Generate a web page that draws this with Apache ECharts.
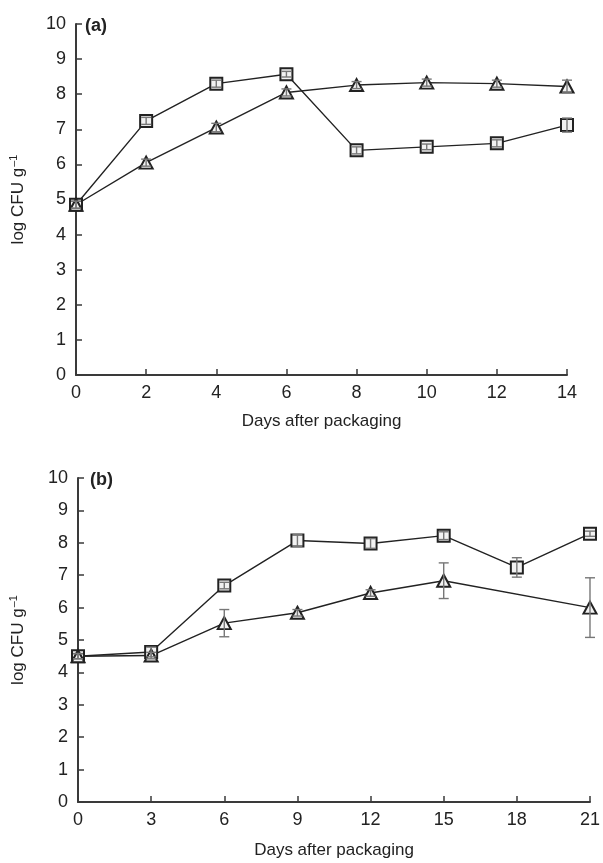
<!DOCTYPE html>
<html>
<head>
<meta charset="utf-8">
<script src="https://cdn.jsdelivr.net/npm/echarts@6/dist/echarts.min.js"></script>
<style>
  html, body { margin: 0; padding: 0; background: #fff; }
  #chart { width: 603px; height: 863px; }
</style>
</head>
<body>
<div id="chart"></div>
<script>
// panel (a)
const daysA = [0, 2, 4, 6, 8, 10, 12, 14]
const squareA = [4.85, 7.24, 8.3, 8.57, 6.4, 6.5, 6.6, 7.12]
const squareErrA = [0.1, 0.1, 0.1, 0.08, 0.1, 0.08, 0.1, 0.2]
const triA = [4.85, 6.05, 7.05, 8.05, 8.26, 8.33, 8.3, 8.22]
const triErrA = [0.1, 0.1, 0.12, 0.1, 0.1, 0.1, 0.1, 0.18]

// panel (b)
const daysB = [0, 3, 6, 9, 12, 15, 18, 21]
const squareB = [4.5, 4.63, 6.68, 8.07, 7.98, 8.22, 7.24, 8.28]
const squareErrB = [0.08, 0.15, 0.1, 0.18, 0.15, 0.12, 0.3, 0.08]
const daysTriB = [0, 3, 6, 9, 12, 15, 21]
const triB = [4.5, 4.52, 5.52, 5.84, 6.45, 6.83, 6.0]
const triErrB = [0.08, 0.1, 0.42, 0.1, 0.1, 0.55, 0.92]

const yTicks = [0, 1, 2, 3, 4, 5, 6, 7, 8, 9, 10]

const pairs = (xs, ys) => xs.map((x, i) => [x, ys[i]])
const errRows = (xs, ys, es) => xs.map((x, i) => [x, ys[i] - es[i], ys[i] + es[i]])

const chart = echarts.init(document.getElementById('chart'), null, { renderer: 'canvas' })

const font = 'Liberation Sans, Arial, sans-serif'
const ink = '#222'
const axisCol = '#3a3a3a'

const errorBar = (idx, rows) => ({
  type: 'custom',
  xAxisIndex: idx,
  yAxisIndex: idx,
  z: 5,
  silent: true,
  data: rows,
  renderItem: (params, api) => {
    const lo = api.coord([api.value(0), api.value(1)])
    const hi = api.coord([api.value(0), api.value(2)])
    const w = 5
    const style = { stroke: '#777', lineWidth: 1.4 }
    return {
      type: 'group',
      children: [
        { type: 'line', shape: { x1: lo[0], y1: lo[1], x2: hi[0], y2: hi[1] }, style },
        { type: 'line', shape: { x1: lo[0] - w, y1: lo[1], x2: lo[0] + w, y2: lo[1] }, style },
        { type: 'line', shape: { x1: hi[0] - w, y1: hi[1], x2: hi[0] + w, y2: hi[1] }, style }
      ]
    }
  }
})

const lineSeries = (idx, data, symbol) => ({
  type: 'line',
  xAxisIndex: idx,
  yAxisIndex: idx,
  data: data,
  symbol: symbol,
  symbolSize: symbol === 'rect' ? 12 : [13, 12],
  showAllSymbol: true,
  z: 3,
  lineStyle: { color: ink, width: 1.4 },
  itemStyle: { color: '#f2f2f2', borderColor: ink, borderWidth: 2 }
})

const xAxisBase = (idx, max, interval, gap) => ({
  type: 'value',
  gridIndex: idx,
  min: 0,
  max: max,
  interval: interval,
  name: 'Days after packaging',
  nameLocation: 'middle',
  nameGap: gap,
  nameTextStyle: { color: ink, fontSize: 17, fontFamily: font },
  axisLine: { lineStyle: { color: axisCol, width: 2 } },
  axisTick: { inside: true, length: 6, lineStyle: { color: axisCol, width: 1.5 } },
  axisLabel: { color: ink, fontSize: 18, fontFamily: font, margin: 9 },
  splitLine: { show: false }
})

const yAxisBase = (idx, gap) => ({
  type: 'value',
  gridIndex: idx,
  min: yTicks[0],
  max: yTicks[yTicks.length - 1],
  interval: 1,
  name: '{b|log CFU g}{s|–1}',
  nameLocation: 'middle',
  nameGap: gap,
  nameRotate: 90,
  nameTextStyle: {
    rich: {
      b: { color: ink, fontSize: 17, fontFamily: font },
      s: { color: ink, fontSize: 11, fontFamily: font, verticalAlign: 'top', padding: [0, 0, 10, 1] }
    }
  },
  axisLine: { lineStyle: { color: axisCol, width: 2 } },
  axisTick: { inside: true, length: 6, lineStyle: { color: axisCol, width: 1.5 } },
  axisLabel: { color: ink, fontSize: 18, fontFamily: font, margin: 10 },
  splitLine: { show: false }
})

const option = {
  animation: false,
  backgroundColor: '#fff',
  title: [
    { text: '(a)', left: 80, top: 12, textStyle: { fontSize: 18, fontWeight: 'bold', color: ink, fontFamily: font } },
    { text: '(b)', left: 85, top: 466, textStyle: { fontSize: 18, fontWeight: 'bold', color: ink, fontFamily: font } }
  ],
  grid: [
    { left: 67, top: 24, width: 500, height: 351 },
    { left: 71, top: 478, width: 519, height: 324 }
  ],
  xAxis: [xAxisBase(0, 14, 2, 38), xAxisBase(1, 21, 3, 40)],
  yAxis: [yAxisBase(0, 47), yAxisBase(1, 49)],
  series: [
    lineSeries(0, pairs(daysA, squareA), 'rect'),
    lineSeries(0, pairs(daysA, triA), 'triangle'),
    errorBar(0, errRows(daysA, squareA, squareErrA)),
    errorBar(0, errRows(daysA, triA, triErrA)),
    lineSeries(1, pairs(daysB, squareB), 'rect'),
    lineSeries(1, pairs(daysTriB, triB), 'triangle'),
    errorBar(1, errRows(daysB, squareB, squareErrB)),
    errorBar(1, errRows(daysTriB, triB, triErrB))
  ]
}

chart.setOption(option)
</script>
</body>
</html>
